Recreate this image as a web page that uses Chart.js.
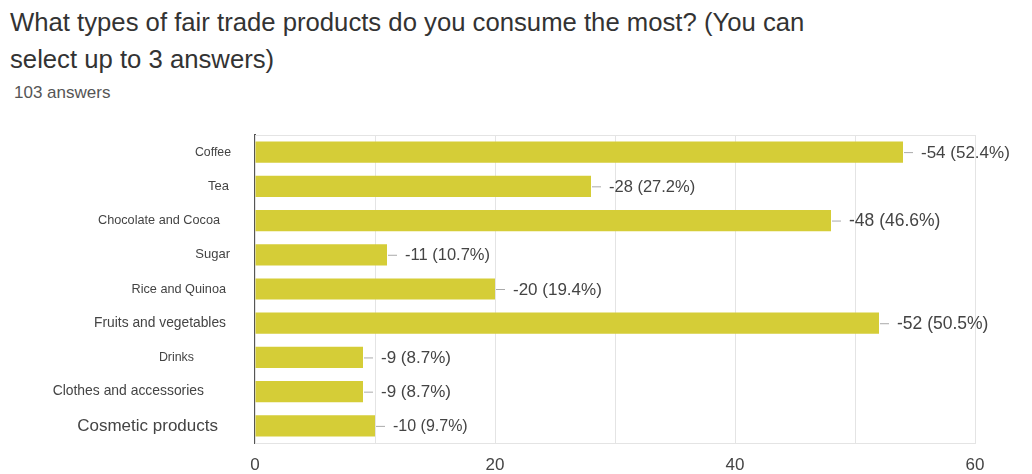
<!DOCTYPE html>
<html>
<head>
<meta charset="utf-8">
<script src="https://cdn.jsdelivr.net/npm/chart.js@4.4.1/dist/chart.umd.min.js"></script>
<style>
  body { margin: 0; background: #fff; font-family: Arial, "Liberation Sans", sans-serif; }
  #titulo { position: absolute; left: 10px; top: 4px; font-size: 25.7px; line-height: 37px; color: #333; white-space: nowrap; }
  #respuestas { position: absolute; left: 14px; top: 83px; font-size: 17px; color: #555; }
  #grafico { position: absolute; left: 0; top: 120px; }
</style>
</head>
<body>
<div id="titulo">What types of fair trade products do you consume the most? (You can<br>select up to 3 answers)</div>
<div id="respuestas">103 answers</div>
<div id="grafico"><canvas id="productosT" width="1032" height="354"></canvas></div>
<script>
// Datos de la encuesta
const categorias = [
    'Coffee', 'Tea', 'Chocolate and Cocoa', 'Sugar', 'Rice and Quinoa',
    'Fruits and vegetables', 'Drinks', 'Clothes and accessories', 'Cosmetic products'
];
const respuestas = [54, 28, 48, 11, 20, 52, 9, 9, 10];
const porcentajes = ['52.4%', '27.2%', '46.6%', '10.7%', '19.4%', '50.5%', '8.7%', '8.7%', '9.7%'];
const etiquetasX = [0, 20, 40, 60];

// estilo de cada categoria: tamaño de letra y separacion del eje
const tamCategoria = [12.3, 13, 12.7, 13, 12.7, 13.8, 12.4, 13.9, 17];
const sepCategoria = [24, 26, 35, 25, 29, 29, 61, 51, 37];
const tamValor = [17, 16.5, 17.5, 16.5, 17, 17.5, 17, 17, 16];

const colorBarra = '#d5cd37';
const fuente = 'Arial, "Liberation Sans", sans-serif';

// marco del area de datos
const marco = {
    id: 'marco',
    beforeDatasetsDraw(chart) {
        const a = chart.chartArea;
        const ctx = chart.ctx;
        ctx.save();
        ctx.strokeStyle = '#e4e4e4';
        ctx.lineWidth = 1;
        ctx.strokeRect(a.left + 0.5, a.top + 0.5, a.right - a.left, a.bottom - a.top);
        ctx.restore();
    }
};

// nombres de las categorias a la izquierda del eje
const nombres = {
    id: 'nombres',
    afterDraw(chart) {
        const ctx = chart.ctx;
        const y = chart.scales.y;
        ctx.save();
        ctx.fillStyle = '#444';
        ctx.textAlign = 'right';
        ctx.textBaseline = 'middle';
        categorias.forEach((c, i) => {
            ctx.font = tamCategoria[i] + 'px ' + fuente;
            ctx.fillText(c, y.right - sepCategoria[i], y.getPixelForValue(i));
        });
        ctx.restore();
    }
};

// etiqueta con guion al final de cada barra
const etiquetas = {
    id: 'etiquetas',
    afterDatasetsDraw(chart) {
        const ctx = chart.ctx;
        const meta = chart.getDatasetMeta(0);
        ctx.save();
        ctx.textBaseline = 'middle';
        meta.data.forEach((barra, i) => {
            const x = barra.x;
            const y = barra.y;
            ctx.strokeStyle = '#aaa';
            ctx.lineWidth = 1;
            ctx.beginPath();
            ctx.moveTo(x + 1, y + 0.5);
            ctx.lineTo(x + 10, y + 0.5);
            ctx.stroke();
            ctx.font = tamValor[i] + 'px ' + fuente;
            ctx.fillStyle = '#444';
            ctx.fillText('-' + respuestas[i] + ' (' + porcentajes[i] + ')', x + 18, y + 1);
        });
        ctx.restore();
    }
};

let productosT = new Chart(
    document.getElementById('productosT').getContext('2d'),
    {
        type: 'bar',
        data: {
            labels: categorias,
            datasets: [{
                data: respuestas,
                backgroundColor: colorBarra,
                borderWidth: 0,
                barPercentage: 0.62,
                categoryPercentage: 1
            }]
        },
        options: {
            indexAxis: 'y',
            responsive: false,
            animation: false,
            layout: { padding: { top: 15, right: 57, left: 0, bottom: 0 } },
            plugins: {
                legend: { display: false },
                tooltip: { enabled: false }
            },
            scales: {
                x: {
                    min: 0,
                    max: 60,
                    afterFit: (escala) => { escala.height = 31; },
                    ticks: {
                        stepSize: 10,
                        padding: 12,
                        color: '#444',
                        font: { size: 17, family: fuente },
                        callback: (v) => etiquetasX.includes(v) ? v : ''
                    },
                    grid: { color: '#e4e4e4', drawTicks: false },
                    border: { display: false }
                },
                y: {
                    afterFit: (escala) => { escala.width = 255; },
                    ticks: { display: false },
                    grid: { display: false, drawTicks: false },
                    border: { display: true, color: '#555', width: 2 }
                }
            }
        },
        plugins: [marco, nombres, etiquetas]
    });
</script>
</body>
</html>
